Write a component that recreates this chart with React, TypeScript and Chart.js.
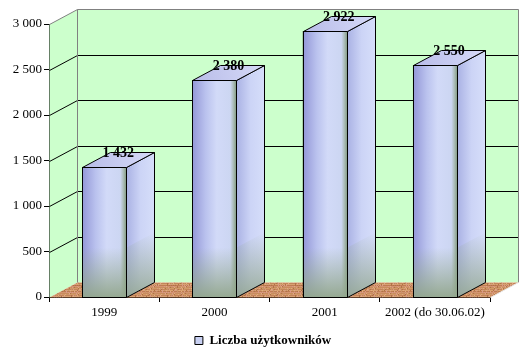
import React, { useEffect, useRef } from "react";
import { Chart, registerables } from "chart.js";

Chart.register(...registerables);

// ---- data ----
const categories = ["1999", "2000", "2001", "2002 (do 30.06.02)"];
const userCounts = [1432, 2380, 2922, 2550];
const seriesLabel = "Liczba użytkowników";
const yTickValues = [0, 500, 1000, 1500, 2000, 2500, 3000];
const yMax = 3000;

// ---- 3D look ----
const DX = 28;
const DY = 15;
const FONT = "'Liberation Serif', 'Times New Roman', serif";
const LEGEND_SHIFT = 18;

function fmt(v: number): string {
  return String(v).replace(/\B(?=(\d{3})+(?!\d))/g, " ");
}

function makeFloorPattern(ctx: CanvasRenderingContext2D): CanvasPattern | string {
  const c = document.createElement("canvas");
  c.width = 32;
  c.height = 12;
  const p = c.getContext("2d");
  if (!p) return "#C98E5E";
  const rowColors = ["#D29A66", "#C4845A", "#D8A272", "#BE7C52", "#D49470", "#C88C5E"];
  const accents = ["#E2AC80", "#B07048", "#D89A88", "#C8946A"];
  for (let yy = 0; yy < c.height; yy++) {
    for (let xx = 0; xx < c.width; xx++) {
      const k = (xx * 7 + yy * 11 + ((xx * (yy + 3)) % 5)) % 13;
      p.fillStyle = k < 9 ? rowColors[yy % rowColors.length] : accents[k % accents.length];
      p.fillRect(xx, yy, 1, 1);
    }
  }
  return ctx.createPattern(c, "repeat") || "#C98E5E";
}

function poly(ctx: CanvasRenderingContext2D, pts: number[][]) {
  ctx.beginPath();
  ctx.moveTo(pts[0][0], pts[0][1]);
  for (let i = 1; i < pts.length; i++) ctx.lineTo(pts[i][0], pts[i][1]);
  ctx.closePath();
}

const legendShiftPlugin = {
  id: "legendShift",
  afterLayout(chart: any) {
    if (chart.legend) {
      chart.legend.left += LEGEND_SHIFT;
      chart.legend.right += LEGEND_SHIFT;
    }
  },
};

const threeDPlugin = {
  id: "threeD",
  beforeDatasetsDraw(chart: any) {
    const { ctx, chartArea: a, scales } = chart;
    const ys = scales.y;
    const L = Math.round(a.left) + 0.5;
    const R = Math.round(a.right) + 0.5;
    const T = Math.round(ys.getPixelForValue(yMax)) + 0.5;
    const B = Math.round(ys.getPixelForValue(0)) + 0.5;
    ctx.save();
    // back wall
    ctx.fillStyle = "#CCFFCC";
    poly(ctx, [[L + DX, T - DY], [R + DX, T - DY], [R + DX, B - DY], [L + DX, B - DY]]);
    ctx.fill();
    // side wall
    poly(ctx, [[L, T], [L + DX, T - DY], [L + DX, B - DY], [L, B]]);
    ctx.fill();
    // floor
    ctx.fillStyle = makeFloorPattern(ctx);
    poly(ctx, [[L, B], [R, B], [R + DX, B - DY], [L + DX, B - DY]]);
    ctx.fill();
    // grid lines (side wall + back wall)
    ctx.strokeStyle = "#000000";
    ctx.lineWidth = 1;
    yTickValues.forEach((v) => {
      if (v <= 0 || v >= yMax) return;
      const py = Math.round(ys.getPixelForValue(v)) + 0.5;
      ctx.beginPath();
      ctx.moveTo(L, py);
      ctx.lineTo(L + DX, py - DY);
      ctx.lineTo(R + DX, py - DY);
      ctx.stroke();
    });
    // wall outlines
    ctx.strokeStyle = "#808080";
    ctx.beginPath();
    ctx.moveTo(L, T);
    ctx.lineTo(L + DX, T - DY);
    ctx.lineTo(R + DX, T - DY);
    ctx.lineTo(R + DX, B - DY);
    ctx.moveTo(L + DX, T - DY);
    ctx.lineTo(L + DX, B - DY);
    ctx.stroke();
    ctx.strokeStyle = "#E8E8E8";
    ctx.beginPath();
    ctx.moveTo(R + DX, B - DY);
    ctx.lineTo(R, B);
    ctx.stroke();
    ctx.restore();
  },
  afterDatasetsDraw(chart: any) {
    const { ctx, scales } = chart;
    const meta = chart.getDatasetMeta(0);
    const values = chart.data.datasets[0].data as number[];
    const baseY = Math.round(scales.y.getPixelForValue(0)) + 0.5;
    ctx.save();
    ctx.lineWidth = 1;
    ctx.strokeStyle = "#000000";
    meta.data.forEach((bar: any, i: number) => {
      const { x, y, width } = bar.getProps(["x", "y", "width"], true);
      const l = Math.round(x - width / 2) + 0.5;
      const r = Math.round(x + width / 2) + 0.5;
      const t = Math.round(y) + 0.5;
      const b = baseY;

      // front face
      const gf = ctx.createLinearGradient(l, 0, r, 0);
      gf.addColorStop(0, "#9498D8");
      gf.addColorStop(0.3, "#BAC2EE");
      gf.addColorStop(0.55, "#D2DAF8");
      gf.addColorStop(0.86, "#CCD6F2");
      gf.addColorStop(0.94, "#A6B8B0");
      gf.addColorStop(1, "#7E967E");
      ctx.fillStyle = gf;
      ctx.fillRect(l, t, r - l, b - t);
      const h = Math.min(50, b - t);
      const gv = ctx.createLinearGradient(0, b - h, 0, b);
      gv.addColorStop(0, "rgba(150,172,146,0)");
      gv.addColorStop(1, "rgba(146,166,140,0.95)");
      ctx.fillStyle = gv;
      ctx.fillRect(l, b - h, r - l, h);
      ctx.strokeRect(l, t, r - l, b - t);

      // side face
      const gs = ctx.createLinearGradient(r, 0, r + DX, 0);
      gs.addColorStop(0, "#AAB2E4");
      gs.addColorStop(0.5, "#CCD4F6");
      gs.addColorStop(1, "#D6DEFA");
      ctx.fillStyle = gs;
      poly(ctx, [[r, t], [r + DX, t - DY], [r + DX, b - DY], [r, b]]);
      ctx.fill();
      const gsv = ctx.createLinearGradient(0, b - DY - h, 0, b);
      gsv.addColorStop(0, "rgba(150,172,146,0)");
      gsv.addColorStop(1, "rgba(146,166,140,0.85)");
      ctx.fillStyle = gsv;
      poly(ctx, [[r, Math.max(t, b - h)], [r + DX, Math.max(t, b - h) - DY], [r + DX, b - DY], [r, b]]);
      ctx.fill();
      poly(ctx, [[r, t], [r + DX, t - DY], [r + DX, b - DY], [r, b]]);
      ctx.stroke();

      // top face
      const gt = ctx.createLinearGradient(l, t, r + DX, t - DY);
      gt.addColorStop(0, "#B8BCE8");
      gt.addColorStop(1, "#D6DAF8");
      ctx.fillStyle = gt;
      poly(ctx, [[l, t], [r, t], [r + DX, t - DY], [l + DX, t - DY]]);
      ctx.fill();
      ctx.stroke();

      // value label
      ctx.fillStyle = "#000000";
      ctx.font = "bold 14px " + FONT;
      ctx.textAlign = "center";
      ctx.textBaseline = "middle";
      ctx.fillText(fmt(values[i]), x + DX / 2, t - DY + 1);
    });
    ctx.restore();
  },
};

export default function App() {
  const ref = useRef<HTMLCanvasElement | null>(null);

  useEffect(() => {
    if (!ref.current) return;
    const chart = new Chart(ref.current, {
      type: "bar",
      data: {
        labels: categories,
        datasets: [
          {
            label: seriesLabel,
            data: userCounts,
            backgroundColor: "#C8D0F2",
            borderColor: "#000000",
            borderWidth: 1,
            categoryPercentage: 1,
            barPercentage: 0.4,
          },
        ],
      },
      options: {
        responsive: false,
        animation: false,
        devicePixelRatio: 1,
        layout: { padding: { top: 24, right: 40, left: 0, bottom: -3 } },
        plugins: {
          legend: {
            display: true,
            position: "bottom",
            labels: {
              color: "#000000",
              font: { family: FONT, size: 13, weight: "bold" },
              boxWidth: 8,
              boxHeight: 8,
              padding: 10,
            },
          },
          tooltip: { enabled: false },
        },
        scales: {
          x: {
            type: "category",
            offset: true,
            grid: {
              offset: true,
              drawOnChartArea: false,
              drawTicks: true,
              tickLength: 5,
              color: "#000000",
            },
            border: { display: true, color: "#000000" },
            ticks: {
              color: "#000000",
              font: { family: FONT, size: 13 },
              padding: 3,
              maxRotation: 0,
              autoSkip: false,
            },
            afterFit: (s: any) => {
              s.height = 27;
            },
          },
          y: {
            min: 0,
            max: yMax,
            grid: {
              drawOnChartArea: false,
              drawTicks: true,
              tickLength: 5,
              color: "#000000",
            },
            border: { display: true, color: "#000000" },
            ticks: {
              stepSize: 500,
              color: "#000000",
              font: { family: FONT, size: 13 },
              padding: 2,
              callback: (v: any) => fmt(Number(v)),
            },
            afterFit: (s: any) => {
              s.width = 49;
            },
          },
        },
      },
      plugins: [threeDPlugin, legendShiftPlugin],
    });
    return () => chart.destroy();
  }, []);

  return (
    <div style={{ position: "absolute", left: 0, top: 0, width: 530, height: 354, background: "#FFFFFF" }}>
      <canvas ref={ref} width={530} height={354} style={{ display: "block" }} />
    </div>
  );
}
